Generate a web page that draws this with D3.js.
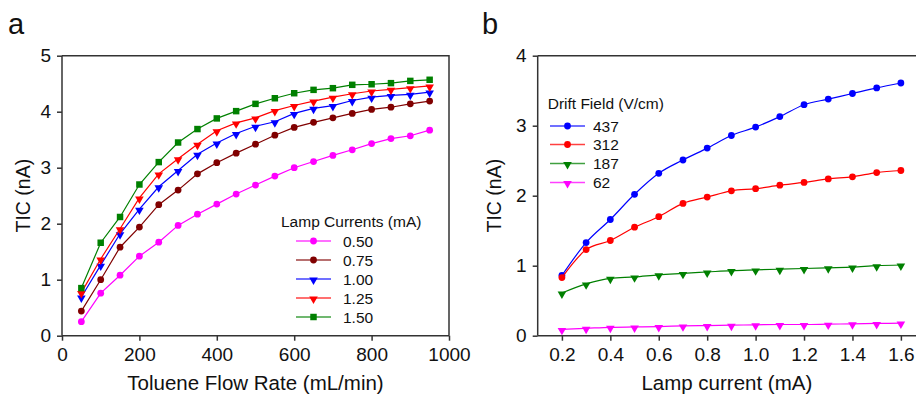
<!DOCTYPE html>
<html>
<head>
<meta charset="utf-8">
<script src="https://cdn.jsdelivr.net/npm/d3@7"></script>
<style>
  html, body { margin: 0; padding: 0; background: #fff; }
  svg { display: block; font-family: "Liberation Sans", Arial, sans-serif; }
</style>
</head>
<body>
<svg id="chart" width="916" height="395"></svg>
<script>
// ---- panel a data ----
const flowRates = [50, 100, 150, 200, 250, 300, 350, 400, 450, 500, 550, 600, 650, 700, 750, 800, 850, 900, 950];
const lampCurrents = ['0.50', '0.75', '1.00', '1.25', '1.50'];
const tic050 = [0.25, 0.76, 1.08, 1.42, 1.67, 1.97, 2.17, 2.35, 2.53, 2.69, 2.85, 3.00, 3.11, 3.22, 3.32, 3.43, 3.52, 3.57, 3.67];
const tic075 = [0.44, 1.00, 1.58, 1.94, 2.34, 2.60, 2.89, 3.09, 3.26, 3.42, 3.58, 3.72, 3.81, 3.89, 3.97, 4.04, 4.08, 4.14, 4.19];
const tic100 = [0.69, 1.26, 1.82, 2.26, 2.66, 2.95, 3.24, 3.44, 3.61, 3.74, 3.82, 3.97, 4.06, 4.11, 4.20, 4.26, 4.29, 4.31, 4.35];
const tic125 = [0.77, 1.37, 1.91, 2.46, 2.89, 3.16, 3.42, 3.66, 3.80, 3.89, 4.02, 4.11, 4.19, 4.26, 4.32, 4.37, 4.40, 4.43, 4.46];
const tic150 = [0.85, 1.66, 2.12, 2.70, 3.10, 3.45, 3.69, 3.88, 4.01, 4.14, 4.24, 4.33, 4.39, 4.42, 4.48, 4.49, 4.51, 4.55, 4.57];
const flowTicks = [0, 200, 400, 600, 800, 1000];
const ticTicksA = [0, 1, 2, 3, 4, 5];

// ---- panel b data ----
const lampSteps = [0.2, 0.3, 0.4, 0.5, 0.6, 0.7, 0.8, 0.9, 1.0, 1.1, 1.2, 1.3, 1.4, 1.5, 1.6];
const driftFields = ['437', '312', '187', '62'];
const tic437 = [0.86, 1.33, 1.66, 2.02, 2.32, 2.51, 2.68, 2.86, 2.98, 3.13, 3.30, 3.38, 3.46, 3.54, 3.61];
const tic312 = [0.83, 1.23, 1.36, 1.55, 1.70, 1.89, 1.98, 2.07, 2.10, 2.15, 2.19, 2.24, 2.27, 2.33, 2.36];
const tic187 = [0.61, 0.74, 0.82, 0.84, 0.87, 0.89, 0.91, 0.93, 0.94, 0.95, 0.96, 0.97, 0.98, 1.00, 1.01];
const tic62 = [0.09, 0.105, 0.12, 0.125, 0.13, 0.14, 0.145, 0.15, 0.155, 0.16, 0.16, 0.165, 0.17, 0.175, 0.18];
const currentTicks = [0.2, 0.4, 0.6, 0.8, 1.0, 1.2, 1.4, 1.6];
const ticTicksB = [0, 1, 2, 3, 4];

const svg = d3.select('#chart');
const axisColor = '#333';

const seriesA = [
  { name: lampCurrents[0], values: tic050, color: '#ff00ff', shape: 'circle' },
  { name: lampCurrents[1], values: tic075, color: '#800000', shape: 'circle' },
  { name: lampCurrents[2], values: tic100, color: '#0000ff', shape: 'tri' },
  { name: lampCurrents[3], values: tic125, color: '#ff0000', shape: 'tri' },
  { name: lampCurrents[4], values: tic150, color: '#008000', shape: 'square' }
];
const seriesB = [
  { name: driftFields[0], values: tic437, color: '#0000ff', shape: 'circle' },
  { name: driftFields[1], values: tic312, color: '#ff0000', shape: 'circle' },
  { name: driftFields[2], values: tic187, color: '#008000', shape: 'tri' },
  { name: driftFields[3], values: tic62, color: '#ff00ff', shape: 'tri' }
];

function symbolPath(shape) {
  if (shape === 'circle') return d3.symbol(d3.symbolCircle, 36)();
  if (shape === 'square') return d3.symbol(d3.symbolSquare, 42)();
  return d3.symbol(d3.symbolTriangle, 32)();
}
function symbolTransform(shape, x, y) {
  return shape === 'tri' ? `translate(${x},${y + 1}) rotate(180)` : `translate(${x},${y})`;
}

function drawAxes(x, y, xTicks, yTicks, xFmt, xTitle, frameRight) {
  const [x0, x1] = x.range();
  const [yb, yt] = y.range();

  const gx = svg.append('g')
    .attr('transform', `translate(0,${yb})`)
    .call(d3.axisBottom(x).tickValues(xTicks).tickSize(5).tickPadding(7).tickFormat(xFmt));
  const gy = svg.append('g')
    .attr('transform', `translate(${x0},0)`)
    .call(d3.axisLeft(y).tickValues(yTicks).tickSize(5).tickPadding(6).tickFormat(d3.format('d')));

  [gx, gy].forEach(g => {
    g.select('.domain').attr('stroke', axisColor).attr('stroke-width', 1.5);
    g.selectAll('.tick line').attr('stroke', axisColor).attr('stroke-width', 1.5);
    g.selectAll('.tick text').attr('fill', '#111').style('font-size', '19px')
      .style('font-family', '"Liberation Sans", Arial, sans-serif');
  });
  // strip the outer tick stubs
  gx.select('.domain').attr('d', `M${x0},0H${x1}`);
  gy.select('.domain').attr('d', `M0,${yb}V${yt}`);

  // frame
  svg.append('path')
    .attr('d', `M${x0},${yt}H${frameRight}` + (frameRight <= 916 ? `V${yb}` : ''))
    .attr('fill', 'none').attr('stroke', axisColor).attr('stroke-width', 1.5);

  svg.append('text')
    .attr('x', (x0 + Math.min(x1, 916)) / 2).attr('y', 390)
    .attr('text-anchor', 'middle').style('font-size', '20.5px').attr('fill', '#111')
    .text(xTitle);
}

function drawSeries(x, y, xs, series, curve) {
  series.forEach(s => {
    const pts = xs.map((d, i) => [d, s.values[i]]);
    svg.append('path')
      .datum(pts)
      .attr('fill', 'none')
      .attr('stroke', s.color)
      .attr('stroke-width', 1.2)
      .attr('d', d3.line().x(d => x(d[0])).y(d => y(d[1])).curve(curve));
    svg.append('g').selectAll('path')
      .data(pts)
      .join('path')
      .attr('d', symbolPath(s.shape))
      .attr('transform', d => symbolTransform(s.shape, x(d[0]), y(d[1])))
      .attr('fill', s.color);
  });
}

function drawLegend(title, series, tx, ty, rows, lineX0, lineX1, labelX) {
  svg.append('text').attr('x', tx).attr('y', ty)
    .style('font-size', '15.5px').attr('fill', '#111').text(title);
  series.forEach((s, i) => {
    const ry = rows[i];
    svg.append('line')
      .attr('x1', lineX0).attr('x2', lineX1).attr('y1', ry).attr('y2', ry)
      .attr('stroke', s.color).attr('stroke-width', 1.5).attr('stroke-opacity', 0.75);
    const mx = (lineX0 + lineX1) / 2;
    svg.append('path')
      .attr('d', symbolPath(s.shape))
      .attr('transform', symbolTransform(s.shape, mx, ry))
      .attr('fill', s.color);
    svg.append('text').attr('x', labelX).attr('y', ry + 5.5)
      .style('font-size', '15.5px').attr('fill', '#111').text(s.name);
  });
}

// ---- panel a ----
const xA = d3.scaleLinear().domain([0, 1000]).range([62, 449]);
const yA = d3.scaleLinear().domain([0, 5]).range([335.7, 55.7]);
drawAxes(xA, yA, flowTicks, ticTicksA, d3.format('d'), 'Toluene Flow Rate (mL/min)', 449);
drawSeries(xA, yA, flowRates, seriesA, d3.curveLinear);
drawLegend('Lamp Currents (mA)', seriesA, 281, 227, [241, 260, 279, 298, 317], 296, 331, 343);

svg.append('text')
  .attr('transform', 'translate(30,195.7) rotate(-90)')
  .attr('text-anchor', 'middle').style('font-size', '19.5px').attr('fill', '#111')
  .text('TIC (nA)');
svg.append('text').attr('x', 8).attr('y', 33.5).style('font-size', '29px').attr('fill', '#111').text('a');

// ---- panel b ----
const xB = d3.scaleLinear().domain([0.1, 1.7]).range([537.7, 925.1]);
const yB = d3.scaleLinear().domain([0, 4]).range([335.7, 55.7]);
drawAxes(xB, yB, currentTicks, ticTicksB, d3.format('.1f'), 'Lamp current (mA)', 930);
drawSeries(xB, yB, lampSteps, seriesB, d3.curveMonotoneX);
drawLegend('Drift Field (V/cm)', seriesB, 547.7, 109, [126, 144.5, 163.5, 182.5], 550, 585, 593);

svg.append('text')
  .attr('transform', 'translate(501,195.7) rotate(-90)')
  .attr('text-anchor', 'middle').style('font-size', '19.5px').attr('fill', '#111')
  .text('TIC (nA)');
svg.append('text').attr('x', 482).attr('y', 33.5).style('font-size', '29px').attr('fill', '#111').text('b');
</script>
</body>
</html>
